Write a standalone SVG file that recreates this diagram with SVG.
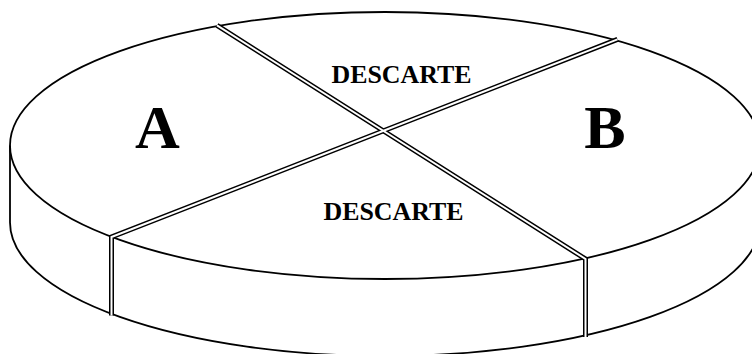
<svg xmlns="http://www.w3.org/2000/svg" width="752" height="354" viewBox="0 0 752 354">
<style>
.o{fill:none;stroke:#000;stroke-width:1.8}
.db{fill:none;stroke:#000;stroke-width:5;stroke-linejoin:miter}
.dw{fill:none;stroke:#fff;stroke-width:2;stroke-linejoin:miter}
.t{font-family:"Liberation Serif","Times New Roman",serif;font-weight:bold;fill:#000;text-anchor:middle}
</style>
<rect width="752" height="354" fill="#fff"/>
<g id="disc">
<ellipse class="o" cx="385" cy="145.5" rx="375" ry="133.5"/>
<path class="o" d="M10,145.5 L10,222.5 A375,133.5 0 0 0 760,222.5"/>
</g>
<g id="dividers">
<path class="db" d="M217,25.4 L585.5,259 L585.5,337"/>
<path class="db" d="M617.5,39.4 L111.5,237 L111.5,315.5"/>
<path class="dw" d="M217,25.4 L585.5,259 L585.5,337"/>
<path class="dw" d="M617.5,39.4 L111.5,237 L111.5,315.5"/>
</g>
<g id="slice-A"><text class="t" x="157.5" y="148" font-size="62">A</text></g>
<g id="slice-B"><text class="t" x="605" y="148" font-size="62">B</text></g>
<g id="slice-descarte-top"><text class="t" x="401.5" y="83" font-size="25" textLength="140" lengthAdjust="spacingAndGlyphs">DESCARTE</text></g>
<g id="slice-descarte-bottom"><text class="t" x="393.5" y="219.5" font-size="25" textLength="140" lengthAdjust="spacingAndGlyphs">DESCARTE</text></g>
</svg>
